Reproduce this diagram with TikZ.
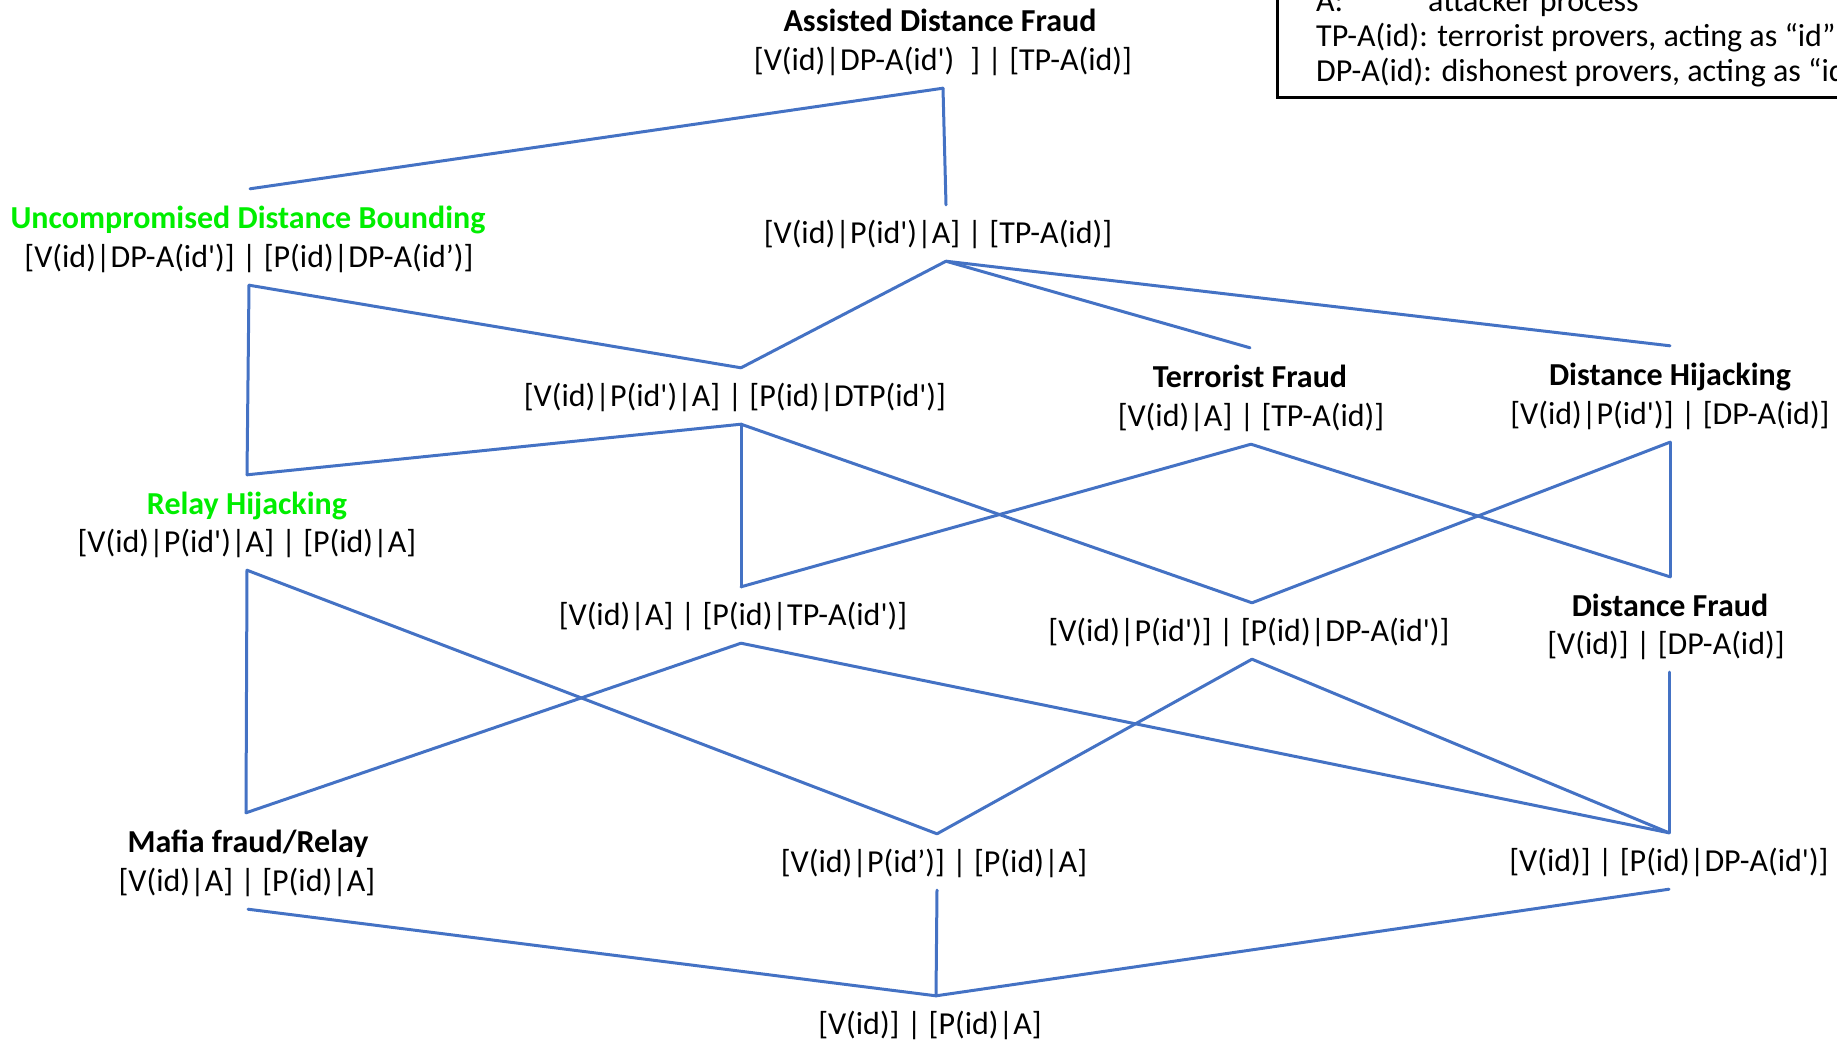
\documentclass[tikz,border=0pt]{standalone}
\usepackage{fontspec}
\setmainfont{Carlito}[Ligatures=TeXOff]
\definecolor{edgeblue}{RGB}{68,114,196}
\definecolor{hlgreen}{RGB}{0,238,0}
\begin{document}
\begin{tikzpicture}[x=1pt,y=-1pt,
  every node/.style={font=\fontsize{32}{36}\selectfont, inner sep=0pt},
  state/.style={minimum height=56pt, text height=26pt, text depth=5pt},
  title/.style={state, font=\fontsize{32}{36}\selectfont\bfseries, text height=27pt, text depth=5pt},
  hl/.style={text=hlgreen},
  edge/.style={draw=edgeblue, line width=3pt, line cap=round, line join=round}]
\useasboundingbox (0,0) rectangle (1837,1045);
\clip (0,0) rectangle (1837,1045);

% legend box (runs off the top and right edges)
\draw[line width=3pt] (1277,-20) rectangle (1870,97);
\node[anchor=base west] (keyA) at (1316,11) {\makebox[112pt][l]{A:}attacker process};
\node[anchor=base west] (keyTP) at (1316,46.5) {TP-A(id): terrorist provers, acting as “id”};
\node[anchor=base west] (keyDP) at (1316,81.5) {DP-A(id): dishonest provers, acting as “id”};

% lattice states
\node[title] (adfT) at (940,20) {Assisted Distance Fraud};
\node[state] (adf) at (943,60) {[V(id)|DP-A(id')\hspace{16pt}] | [TP-A(id)]};

\node[title,hl] (udbT) at (248,217) {Uncompromised Distance Bounding};
\node[state] (udb) at (249,257) {[V(id)|DP-A(id')] | [P(id)|DP-A(id’)]};

\node[state] (n3) at (938,233) {[V(id)|P(id')|A] | [TP-A(id)]};

\node[state] (n4) at (735,396) {[V(id)|P(id')|A] | [P(id)|DTP(id')]};

\node[title] (tfT) at (1250,376) {Terrorist Fraud};
\node[state] (tf) at (1251,416) {[V(id)|A] | [TP-A(id)]};

\node[title] (dhT) at (1670,374) {Distance Hijacking};
\node[state] (dh) at (1670,414) {[V(id)|P(id')] | [DP-A(id)]};

\node[title,hl] (rhT) at (247,503) {Relay Hijacking};
\node[state] (rh) at (247,542) {[V(id)|P(id')|A] | [P(id)|A]};

\node[state] (n8) at (733,615) {[V(id)|A] | [P(id)|TP-A(id')]};

\node[state] (n9) at (1249,631) {[V(id)|P(id')] | [P(id)|DP-A(id')]};

\node[title] (dfT) at (1670,605) {Distance Fraud};
\node[state] (df) at (1666,644) {[V(id)] | [DP-A(id)]};

\node[title] (mfT) at (248,841) {Mafia fraud/Relay};
\node[state] (mf) at (247,881) {[V(id)|A] | [P(id)|A]};

\node[state] (n12) at (934,862) {[V(id)|P(id’)] | [P(id)|A]};

\node[state] (n13) at (1669,861) {[V(id)] | [P(id)|DP-A(id')]};

\node[state] (bot) at (930,1024) {[V(id)] | [P(id)|A]};

% joints where the lattice lines meet each state
\coordinate (adf-b) at (adf.south);
\coordinate (udb-t) at ([xshift=2pt]udbT.north);
\coordinate (udb-b) at (udb.south);
\coordinate (n3-t) at ([xshift=8pt]n3.north);
\coordinate (n3-b) at ([xshift=8pt]n3.south);
\coordinate (n4-t) at ([xshift=6pt]n4.north);
\coordinate (n4-b) at ([xshift=6pt]n4.south);
\coordinate (tf-t) at (tfT.north);
\coordinate (tf-b) at (tf.south);
\coordinate (dh-t) at (dhT.north);
\coordinate (dh-b) at (dh.south);
\coordinate (rh-t) at (rhT.north);
\coordinate (rh-b) at (rh.south);
\coordinate (n8-t) at ([xshift=8pt]n8.north);
\coordinate (n8-b) at ([xshift=8pt]n8.south);
\coordinate (n9-t) at ([xshift=3pt]n9.north);
\coordinate (n9-b) at ([xshift=3pt]n9.south);
\coordinate (df-t) at (dfT.north);
\coordinate (df-b) at ([xshift=3pt]df.south);
\coordinate (mf-t) at ([xshift=-2pt]mfT.north);
\coordinate (mf-b) at ([xshift=1pt]mf.south);
\coordinate (n12-t) at ([xshift=3pt]n12.north);
\coordinate (n12-b) at ([xshift=3pt]n12.south);
\coordinate (n13-t) at (n13.north);
\coordinate (n13-b) at (n13.south);
\coordinate (bot-t) at ([xshift=6pt]bot.north);

% order relation: upper state -- lower state
\foreach \u/\l in {adf/udb, adf/n3,
                   udb/n4, udb/rh,
                   n3/n4, n3/tf, n3/dh,
                   n4/rh, n4/n8, n4/n9,
                   tf/n8, tf/df,
                   dh/n9, dh/df,
                   rh/mf, rh/n12,
                   n8/mf, n8/n13,
                   n9/n12, n9/n13,
                   df/n13,
                   mf/bot, n12/bot, n13/bot}
  \draw[edge] (\u-b) -- (\l-t);
\end{tikzpicture}
\end{document}
